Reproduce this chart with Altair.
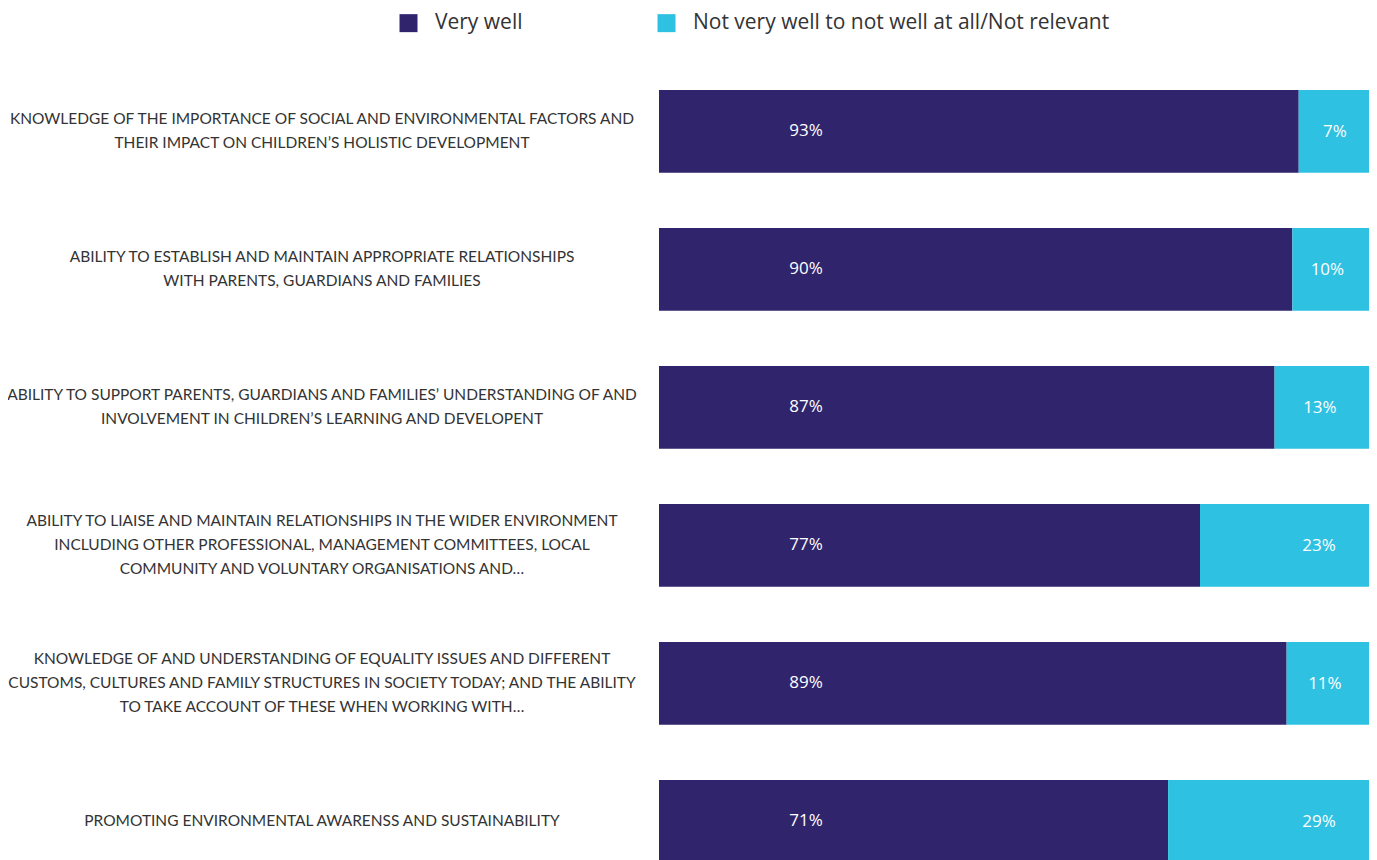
import altair as alt
import pandas as pd

categories = [
    "KNOWLEDGE OF THE IMPORTANCE OF SOCIAL AND ENVIRONMENTAL FACTORS AND|THEIR IMPACT ON CHILDREN\u2019S HOLISTIC DEVELOPMENT",
    "ABILITY TO ESTABLISH AND MAINTAIN APPROPRIATE RELATIONSHIPS|WITH PARENTS, GUARDIANS AND FAMILIES",
    "ABILITY TO SUPPORT PARENTS, GUARDIANS AND FAMILIES\u2019 UNDERSTANDING OF AND|INVOLVEMENT IN CHILDREN\u2019S LEARNING AND DEVELOPENT",
    "ABILITY TO LIAISE AND MAINTAIN RELATIONSHIPS IN THE WIDER ENVIRONMENT|INCLUDING OTHER PROFESSIONAL, MANAGEMENT COMMITTEES, LOCAL|COMMUNITY AND VOLUNTARY ORGANISATIONS AND\u2026",
    "KNOWLEDGE OF AND UNDERSTANDING OF EQUALITY ISSUES AND DIFFERENT|CUSTOMS, CULTURES AND FAMILY STRUCTURES IN SOCIETY TODAY; AND THE ABILITY|TO TAKE ACCOUNT OF THESE WHEN WORKING WITH\u2026",
    "PROMOTING ENVIRONMENTAL AWARENSS AND SUSTAINABILITY",
]
# printed labels
very_well_label = [93, 90, 87, 77, 89, 71]
not_well_label = [7, 10, 13, 23, 11, 29]
# bar lengths as drawn in the picture (share of the full bar, %)
very_well_bar = [90.1, 89.2, 86.7, 76.2, 88.4, 71.7]
series_names = ["Very well", "Not very well to not well at all/Not relevant"]
colors = ["#30256d", "#2fc1e2"]

rows = []
for c, vb, vl, nl in zip(categories, very_well_bar, very_well_label, not_well_label):
    rows.append({"cat": c, "series": series_names[0], "label": vl, "start": 0, "end": vb, "order": 0})
    rows.append({"cat": c, "series": series_names[1], "label": nl, "start": vb, "end": 100, "order": 1})
df = pd.DataFrame(rows)
cat_df = pd.DataFrame({"cat": categories})

y_scale = alt.Scale(paddingInner=0.4, paddingOuter=0.2)
x_scale = alt.Scale(domain=[0, 100], nice=False, zero=True)

bars = alt.Chart(df).mark_bar().encode(
    y=alt.Y("cat:N", sort=categories, scale=y_scale, axis=None),
    x=alt.X("start:Q", scale=x_scale, axis=None),
    x2="end:Q",
    color=alt.Color(
        "series:N",
        scale=alt.Scale(domain=series_names, range=colors),
        legend=alt.Legend(
            title=None,
            orient="none",
            direction="horizontal",
            legendX=-261,
            legendY=-50,
            symbolType="square",
            symbolSize=324,
            symbolStrokeWidth=0,
            symbolOpacity=1,
            labelFontSize=21,
            labelFont="Open Sans",
            labelColor="#333333",
            labelOffset=16,
            labelLimit=0,
            columnPadding=133,
        ),
    ),
)

# centre multi-line labels on their bar: half a band down (dy), then up by half the extra lines
cat_labels = alt.Chart(cat_df).transform_calculate(
    off="-(length(split(datum.cat, '|')) - 1) * 12"
).mark_text(
    align="center", baseline="middle", lineBreak="|", lineHeight=24,
    fontSize=15.5, font="Lato", color="#333333", dy=41.4,
).encode(
    y=alt.Y("cat:N", sort=categories, axis=None),
    yOffset=alt.YOffset("off:Q", scale=None),
    x=alt.value(-337),
    text="cat:N",
)

dark_labels = alt.Chart(df).transform_filter("datum.order == 0").transform_calculate(
    txt="datum.label + '%'"
).mark_text(
    color="white", fontSize=17, font="Open Sans", align="center", baseline="middle", dx=147
).encode(
    y=alt.Y("cat:N", sort=categories, axis=None),
    x=alt.X("start:Q", scale=x_scale, axis=None),
    text=alt.Text("txt:N"),
)

light_labels = alt.Chart(df).transform_filter("datum.order == 1").transform_calculate(
    txt="datum.label + '%'", pos="100 - min(4.8 + (datum.label - 7) * 0.353, 7.05)"
).mark_text(
    color="white", fontSize=17, font="Open Sans", align="center", baseline="middle", dy=1
).encode(
    y=alt.Y("cat:N", sort=categories, axis=None),
    x=alt.X("pos:Q", scale=x_scale, axis=None),
    text=alt.Text("txt:N"),
)

chart = (
    alt.layer(bars, cat_labels, dark_labels, light_labels)
    .properties(
        width=710,
        height=828,
        background="white",
        autosize=alt.AutoSizeParams(type="none"),
        padding={"left": 651, "top": 54.4, "right": 0, "bottom": 0},
    )
    .configure_view(stroke=None, strokeWidth=0)
)

chart.save("out.html", embed_options={"renderer": "svg", "actions": False})
